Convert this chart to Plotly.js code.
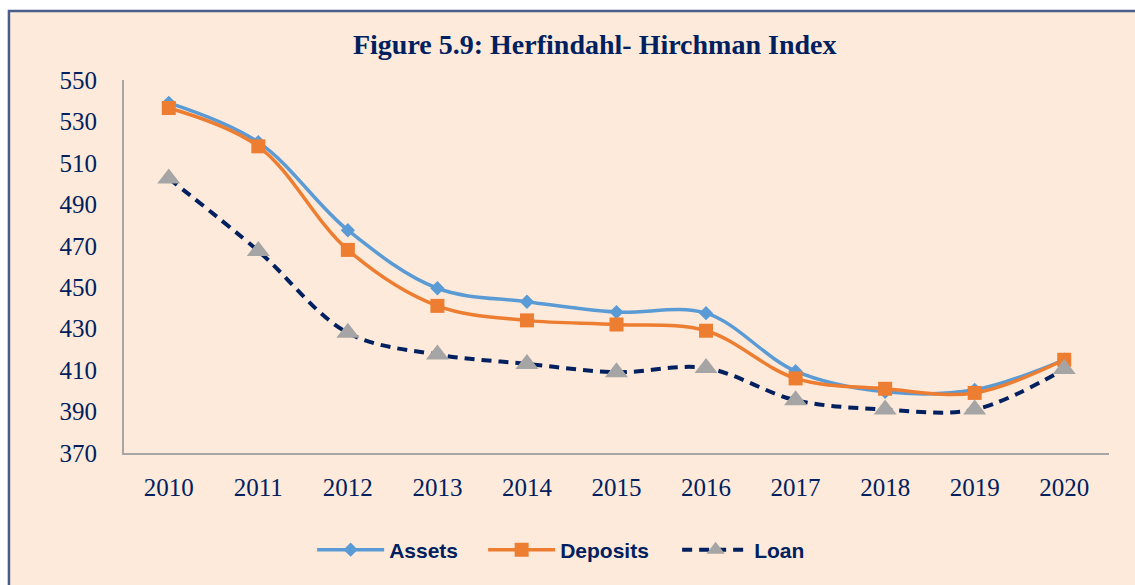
<!DOCTYPE html>
<html>
<head>
<meta charset="utf-8">
<script src="https://cdn.plot.ly/plotly-3.0.1.min.js"></script>
<style>
html,body{margin:0;padding:0;background:#ffffff;}
#chart{width:1135px;height:585px;}
</style>
</head>
<body>
<div id="chart"></div>
<script>
const years = ["2010","2011","2012","2013","2014","2015","2016","2017","2018","2019","2020"];
const assets = [539, 520, 477.5, 449.5, 443, 438, 437.5, 409.5, 399.5, 400.5, 415];
const deposits = [536.5, 518, 468, 441, 434, 432, 429, 406, 401, 399, 415];
const loan = [502.5, 467.5, 428, 417.5, 413, 409, 411, 395.5, 391, 391, 410.5];
const yTicks = [370, 390, 410, 430, 450, 470, 490, 510, 530, 550];

const navy = "#002060";
const traces = [
  {x: years, y: assets, name: "Assets", type: "scatter", mode: "lines+markers", legendwidth: 89,
   line: {color: "#5B9BD5", width: 3.5, shape: "spline", smoothing: 1},
   marker: {symbol: "diamond", size: 11, color: "#5B9BD5"}},
  {x: years, y: deposits, name: "Deposits", type: "scatter", mode: "lines+markers", legendwidth: 112,
   line: {color: "#ED7D31", width: 3.5, shape: "spline", smoothing: 1},
   marker: {symbol: "square", size: 14, color: "#ED7D31"}},
  {x: years, y: loan, name: "Loan", type: "scatter", mode: "lines+markers", legendwidth: 80,
   line: {color: navy, width: 4, dash: "10px,7px", shape: "spline", smoothing: 1},
   marker: {symbol: "triangle-up", size: 20, color: "#A5A5A5"}}
];

const layout = {
  width: 1135, height: 585,
  margin: {l: 124, r: 26, t: 80, b: 132},
  paper_bgcolor: "#ffffff",
  plot_bgcolor: "rgba(0,0,0,0)",
  showlegend: true,
  title: {text: "<b>Figure 5.9: Herfindahl- Hirchman Index</b>", x: 0.524, xref: "container",
          y: 0.925, yref: "container", yanchor: "middle", xanchor: "center",
          font: {family: "Liberation Serif, Times New Roman, serif", size: 28, color: navy}},
  xaxis: {type: "category", range: [-0.5, 10.5], showgrid: false, zeroline: false,
          showline: true, linecolor: "#A6A6A6", linewidth: 2, ticks: "", ticklabelstandoff: 11,
          tickfont: {family: "Liberation Serif, Times New Roman, serif", size: 25, color: navy}},
  yaxis: {range: [370, 550], tickvals: yTicks, ticktext: yTicks.map(String), showgrid: false,
          zeroline: false, showline: true, linecolor: "#A6A6A6", linewidth: 2, ticks: "",
          ticklabelstandoff: 20,
          tickfont: {family: "Liberation Serif, Times New Roman, serif", size: 25, color: navy}},
  legend: {orientation: "h", x: 0.191, xanchor: "left", y: -0.26, yanchor: "middle",
           bgcolor: "rgba(0,0,0,0)", itemwidth: 67,
           font: {family: "Liberation Sans, Arial, sans-serif", size: 21, color: navy, weight: "bold"}},
  shapes: [{type: "rect", xref: "paper", yref: "paper", layer: "below",
            x0: -0.1168, x1: 1.05, y0: -0.4, y1: 1.185,
            fillcolor: "#FDEADA", line: {color: "#4A5C8C", width: 2.5}}]
};

Plotly.newPlot("chart", traces, layout, {displayModeBar: false, staticPlot: true});
</script>
</body>
</html>
